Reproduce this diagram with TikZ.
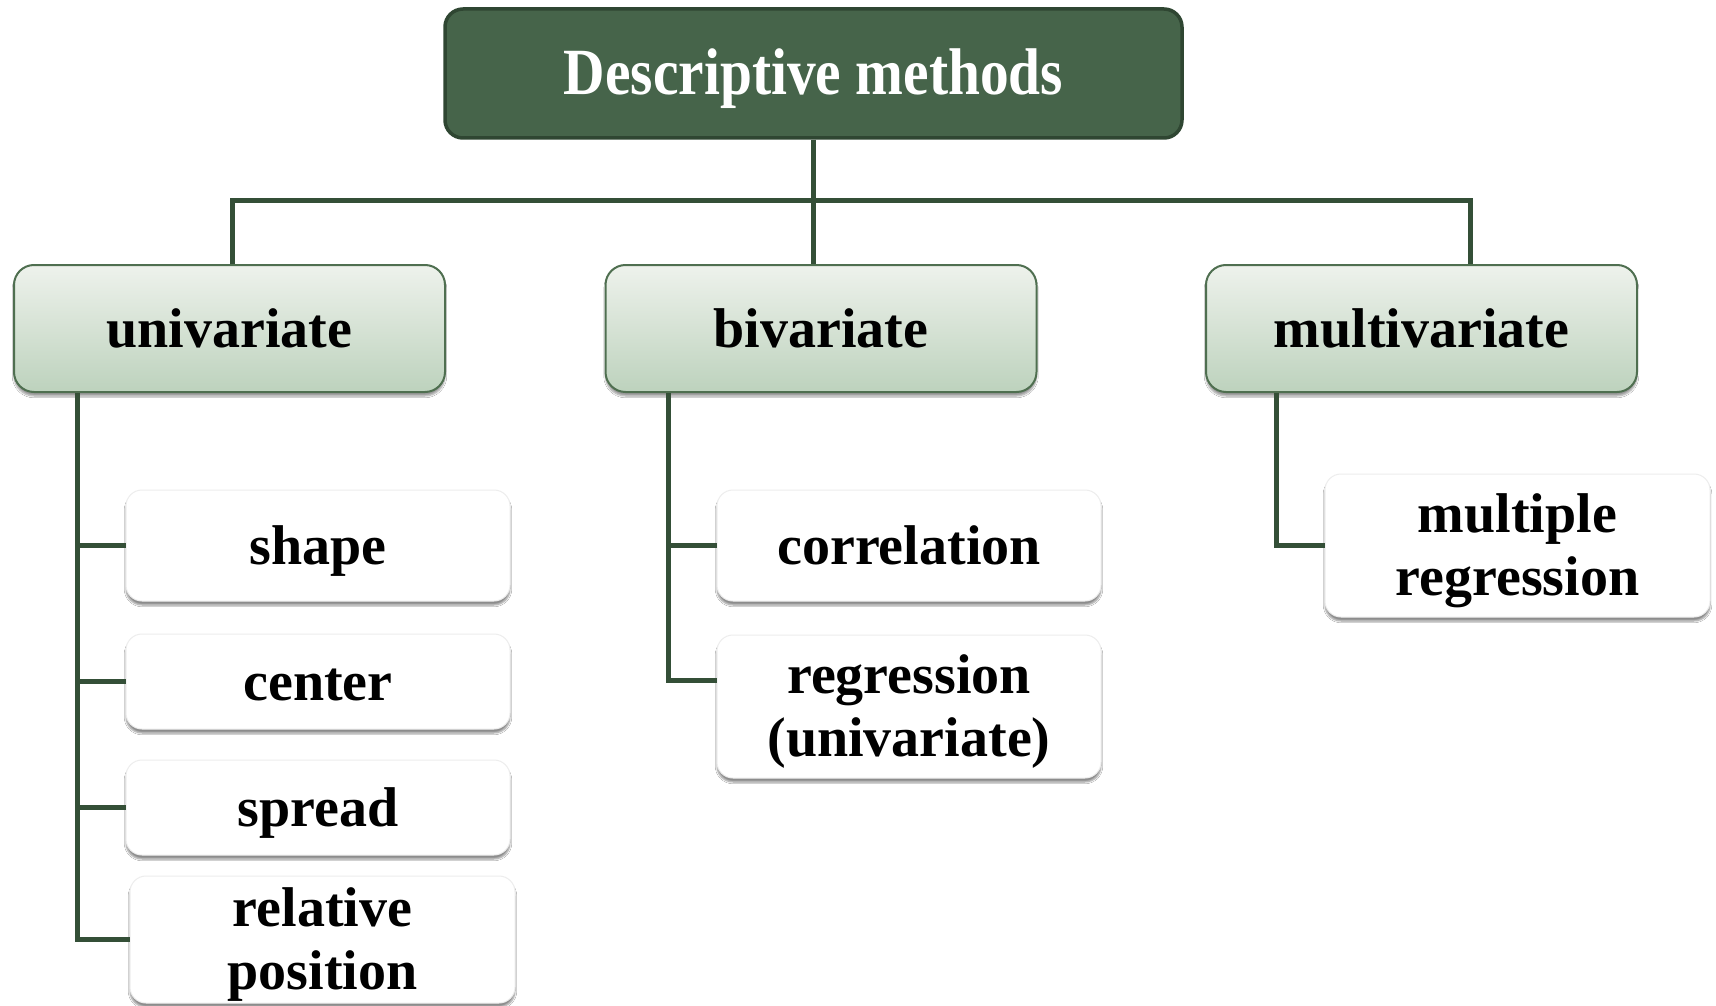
\documentclass[tikz,border=0pt]{standalone}
\usepackage{fontspec}
\newfontfamily\topf{Liberation Serif}[FakeStretch=0.87]
\newfontfamily\mainf{Liberation Serif}
\usetikzlibrary{shadows.blur}
\definecolor{topfill}{HTML}{46644A}
\definecolor{topdraw}{HTML}{2F4632}
\definecolor{midtop}{HTML}{EEF2EC}
\definecolor{midbot}{HTML}{BDD2BD}
\definecolor{middraw}{HTML}{4F6F50}
\definecolor{linec}{HTML}{344F37}
\definecolor{leafdraw}{HTML}{EDEDED}
\newcommand{\leaftext}[1]{\raisebox{-6pt}[\height][\depth]{\begin{tabular}{@{}c@{}}#1\end{tabular}}}
\tikzset{
  topbox/.style={draw=topdraw, line width=3.5pt, fill=topfill, rounded corners=18pt,
    minimum width=737pt, minimum height=129pt, inner sep=0pt, text=white,
    text height=50pt, text depth=7pt,
    font=\topf\bfseries\fontsize{66}{70}\selectfont},
  midbox/.style={draw=middraw, line width=2pt, top color=midtop, bottom color=midbot,
    rounded corners=20pt, minimum width=431pt, minimum height=127pt, inner sep=0pt,
    font=\mainf\bfseries\fontsize{56}{63}\selectfont,
    blur shadow={shadow xshift=0pt, shadow yshift=-4pt, shadow blur steps=6, shadow opacity=40}},
  leafbox/.style={draw=leafdraw, line width=1pt, fill=white, rounded corners=16pt,
    minimum width=384pt, inner sep=0pt,
    font=\mainf\bfseries\fontsize{56}{63}\selectfont,
    blur shadow={shadow xshift=0pt, shadow yshift=-4pt, shadow blur steps=6, shadow opacity=45}},
  conn/.style={draw=linec, line width=5pt}
}
\begin{document}
\begin{tikzpicture}[x=1pt, y=-1pt]
\useasboundingbox[fill=white] (0,0) rectangle (1716,1006);
\coordinate (bar) at (0,200);
% nodes
\node[topbox] (top) at (813.5,73.5) {Descriptive methods};
\node[midbox] (univ) at (229.5,328.5) {univariate};
\node[midbox] (biv) at (821,328.5) {bivariate};
\node[midbox] (multi) at (1421.5,328.5) {multivariate};
\node[leafbox, minimum height=111pt] (shape) at (318,545.5) {\leaftext{shape}};
\node[leafbox, minimum height=95pt] (center) at (318,681.5) {\leaftext{center}};
\node[leafbox, minimum height=95pt] (spread) at (318,807.5) {\leaftext{spread}};
\node[leafbox, minimum height=127pt, minimum width=385pt] (relpos) at (322.5,939.5) {\leaftext{relative\\position}};
\node[leafbox, minimum height=111pt] (corr) at (909,545.5) {\leaftext{correlation}};
\node[leafbox, minimum height=143pt] (regr) at (909,706.5) {\leaftext{regression\\(univariate)}};
\node[leafbox, minimum height=143pt, minimum width=385pt] (mreg) at (1517.5,545.5) {\leaftext{multiple\\regression}};
% tree connectors
\coordinate (udrop) at ([xshift=2.5pt]univ.north);
\coordinate (mdrop) at ([xshift=48.5pt]multi.north);
\draw[conn] (top.south) -- (top.south |- biv.north);
\draw[conn] (udrop) -- (udrop |- bar) -- (mdrop |- bar) -- (mdrop);
% univariate trunk
\coordinate (tu) at ([xshift=64pt]univ.south west);
\draw[conn] (tu) |- (relpos.west);
\draw[conn] (tu |- shape.west) -- (shape.west);
\draw[conn] (tu |- center.west) -- (center.west);
\draw[conn] (tu |- spread.west) -- (spread.west);
% bivariate trunk
\coordinate (tb) at ([xshift=64pt]biv.south west);
\coordinate (rb) at ([yshift=26.5pt]regr.west);
\draw[conn] (tb) |- (rb);
\draw[conn] (tb |- corr.west) -- (corr.west);
% multivariate trunk
\coordinate (tm) at ([xshift=71pt]multi.south west);
\draw[conn] (tm) |- (mreg.west);
\end{tikzpicture}
\end{document}
